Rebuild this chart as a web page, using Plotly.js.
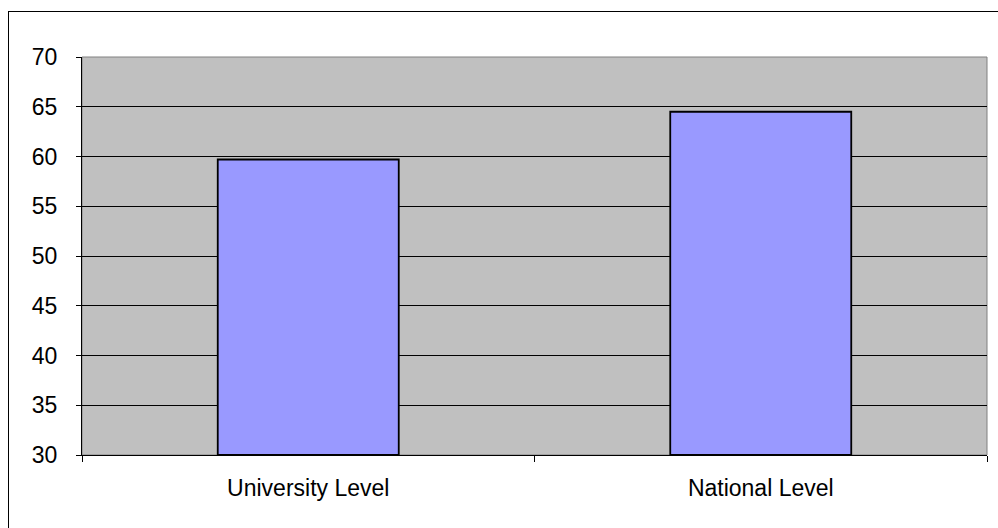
<!DOCTYPE html>
<html>
<head>
<meta charset="utf-8">
<script src="https://cdn.plot.ly/plotly-3.0.1.min.js"></script>
<style>
html,body{margin:0;padding:0;background:#fff;}
#wrap{position:relative;width:998px;height:528px;overflow:hidden;}
#frame{position:absolute;left:8px;top:11px;width:1000px;height:600px;border:1px solid #000;box-sizing:border-box;pointer-events:none;}
#chart{position:absolute;left:0;top:0;width:998px;height:528px;}
</style>
</head>
<body>
<div id="wrap">
<div id="chart"></div>
<div id="frame"></div>
</div>
<script>
var categories = ["University Level", "National Level"];
var values = [59.7, 64.5];
var yTicks = [30, 35, 40, 45, 50, 55, 60, 65, 70];
var baseValue = 30;

var bars = {
  type: "bar",
  x: categories,
  y: values.map(function(v){return v - baseValue;}),
  base: baseValue,
  width: 0.4,
  marker: {color: "#9999FF", line: {color: "#000000", width: 1.8}},
  hoverinfo: "none"
};

var layout = {
  width: 998, height: 528,
  margin: {l: 82, r: 11, t: 57, b: 73},
  paper_bgcolor: "rgba(0,0,0,0)",
  plot_bgcolor: "#C0C0C0",
  showlegend: false,
  font: {family: "Liberation Sans, Arial, sans-serif", size: 23, color: "#000"},
  xaxis: {
    type: "category",
    tickson: "boundaries",
    ticks: "outside", ticklen: 6, tickcolor: "#000", tickwidth: 1,
    showline: true, linecolor: "#000", linewidth: 1,
    showgrid: false, zeroline: false,
    tickfont: {size: 23},
    ticklabelstandoff: 12
  },
  yaxis: {
    range: [30, 70],
    tickvals: yTicks,
    ticks: "outside", ticklen: 5, tickcolor: "#000", tickwidth: 1,
    showline: true, linecolor: "#000", linewidth: 1,
    showgrid: true, gridcolor: "#000", gridwidth: 1,
    zeroline: false,
    tickfont: {size: 23},
    ticklabelstandoff: 14
  },
  shapes: [
    {type: "rect", xref: "paper", yref: "paper", x0: 0, x1: 1, y0: 0, y1: 1,
     line: {color: "#808080", width: 1}, layer: "below"}
  ]
};

Plotly.newPlot("chart", [bars], layout, {displayModeBar: false, staticPlot: true});
</script>
</body>
</html>
